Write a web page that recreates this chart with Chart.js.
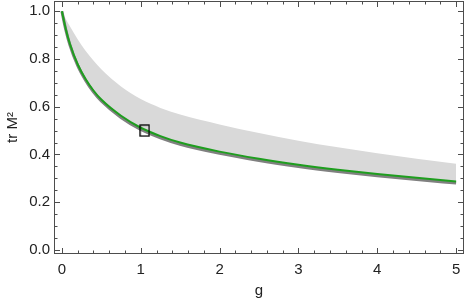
<!DOCTYPE html>
<html>
<head>
<meta charset="utf-8">
<script src="https://cdn.jsdelivr.net/npm/chart.js@4.4.1/dist/chart.umd.min.js"></script>
<style>
  html, body { margin: 0; padding: 0; background: #fff; }
  #wrap { width: 465px; height: 300px; }
</style>
</head>
<body>
<div id="wrap"><canvas id="chart" width="465" height="300"></canvas></div>
<script>
// values
const g_vals    = [0, 0.05, 0.1, 0.2, 0.3, 0.4, 0.5, 0.75, 1.0, 1.25, 1.5, 2.0, 2.5, 3.0, 3.5, 4.0, 4.5, 5.0];
const green_tr  = [1.0, 0.925, 0.865, 0.778, 0.716, 0.668, 0.63, 0.562, 0.512, 0.477, 0.45, 0.412, 0.382, 0.357, 0.336, 0.318, 0.302, 0.287];
const lower_tr  = [1.0, 0.922, 0.861, 0.773, 0.711, 0.662, 0.624, 0.555, 0.505, 0.47, 0.443, 0.405, 0.375, 0.35, 0.329, 0.311, 0.295, 0.28];
const upper_tr  = [1.0, 0.968, 0.938, 0.883, 0.835, 0.794, 0.757, 0.685, 0.632, 0.595, 0.567, 0.526, 0.49, 0.458, 0.43, 0.405, 0.382, 0.361];
const marker_pt = [{x: 1.05, y: 0.5}];

const x_major = [0, 1, 2, 3, 4, 5];
const y_major = [0, 0.2, 0.4, 0.6, 0.8, 1.0];
const x_minor_step = 0.2;
const y_minor_step = 0.05;

const pts = (ys) => g_vals.map((g, i) => ({x: g, y: ys[i]}));

// little open rectangle for the marker
const rectMark = document.createElement('canvas');
rectMark.width = 11; rectMark.height = 13;
(function(){
  const c = rectMark.getContext('2d');
  c.strokeStyle = '#000';
  c.lineWidth = 1.3;
  c.strokeRect(1, 1, 9, 11);
})();

const frameTicks = {
  id: 'frameTicks',
  afterDatasetsDraw(chart) {
    const ctx = chart.ctx;
    const a = chart.chartArea;
    const xs = chart.scales.x, ys = chart.scales.y;
    ctx.save();
    ctx.strokeStyle = '#4d4d4d';
    ctx.lineWidth = 1;
    ctx.strokeRect(a.left + 0.5, a.top + 0.5, a.right - a.left - 1, a.bottom - a.top - 1);
    ctx.beginPath();
    for (let v = 0; v <= 5.0001; v += x_minor_step) {
      const major = x_major.some(m => Math.abs(m - v) < 1e-6);
      const len = major ? 6 : 3.5;
      const px = Math.round(xs.getPixelForValue(v)) + 0.5;
      ctx.moveTo(px, a.bottom); ctx.lineTo(px, a.bottom - len);
      ctx.moveTo(px, a.top); ctx.lineTo(px, a.top + len);
    }
    for (let v = 0; v <= 1.0001; v += y_minor_step) {
      const major = y_major.some(m => Math.abs(m - v) < 1e-6);
      const len = major ? 6 : 3.5;
      const py = Math.round(ys.getPixelForValue(v)) + 0.5;
      ctx.moveTo(a.left, py); ctx.lineTo(a.left + len, py);
      ctx.moveTo(a.right, py); ctx.lineTo(a.right - len, py);
    }
    ctx.stroke();
    ctx.restore();
  }
};

const ctx = document.getElementById('chart').getContext('2d');
const chart = new Chart(ctx, {
  type: 'line',
  data: {
    datasets: [
      {
        label: 'upper',
        data: pts(upper_tr),
        order: 3,
        borderWidth: 0,
        borderColor: 'rgba(0,0,0,0)',
        backgroundColor: '#d9d9d9',
        pointRadius: 0,
        cubicInterpolationMode: 'monotone',
        fill: 1
      },
      {
        label: 'lower',
        data: pts(lower_tr),
        order: 2,
        borderWidth: 3,
        borderColor: '#808080',
        pointRadius: 0,
        cubicInterpolationMode: 'monotone',
        fill: false
      },
      {
        label: 'green',
        data: pts(green_tr),
        order: 1,
        borderWidth: 2,
        borderColor: '#1e9e1e',
        pointRadius: 0,
        cubicInterpolationMode: 'monotone',
        fill: false
      },
      {
        label: 'marker',
        type: 'scatter',
        data: marker_pt,
        order: 0,
        pointStyle: rectMark,
        pointRadius: 6
      }
    ]
  },
  options: {
    responsive: false,
    animation: false,
    layout: { autoPadding: false, padding: { top: 1, right: 1, left: 0, bottom: 0 } },
    plugins: {
      legend: { display: false },
      tooltip: { enabled: false }
    },
    scales: {
      x: {
        type: 'linear',
        min: -0.1,
        max: 5.1,
        afterBuildTicks: (s) => { s.ticks = x_major.map(v => ({value: v})); },
        afterFit: (s) => { s.height = 46; s.paddingLeft = 0; s.paddingRight = 0; },
        grid: { display: false, drawTicks: false },
        border: { display: false },
        ticks: {
          padding: 7,
          color: '#222',
          font: { family: 'Liberation Sans', size: 15 },
          callback: (v) => String(v)
        },
        title: {
          display: true,
          text: 'g',
          color: '#222',
          padding: { top: 0, bottom: 0 },
          font: { family: 'Liberation Sans', size: 15 }
        }
      },
      y: {
        type: 'linear',
        min: -0.017,
        max: 1.043,
        afterBuildTicks: (s) => { s.ticks = y_major.map(v => ({value: v})); },
        afterFit: (s) => { s.width = 54; s.paddingTop = 0; s.paddingBottom = 0; },
        grid: { display: false, drawTicks: false },
        border: { display: false },
        ticks: {
          padding: 4,
          color: '#222',
          font: { family: 'Liberation Sans', size: 15 },
          callback: (v) => Number(v).toFixed(1)
        },
        title: {
          display: true,
          text: 'tr M²',
          color: '#222',
          padding: { top: 4, bottom: 2 },
          font: { family: 'Liberation Sans', size: 15 }
        }
      }
    }
  },
  plugins: [frameTicks]
});
</script>
</body>
</html>
